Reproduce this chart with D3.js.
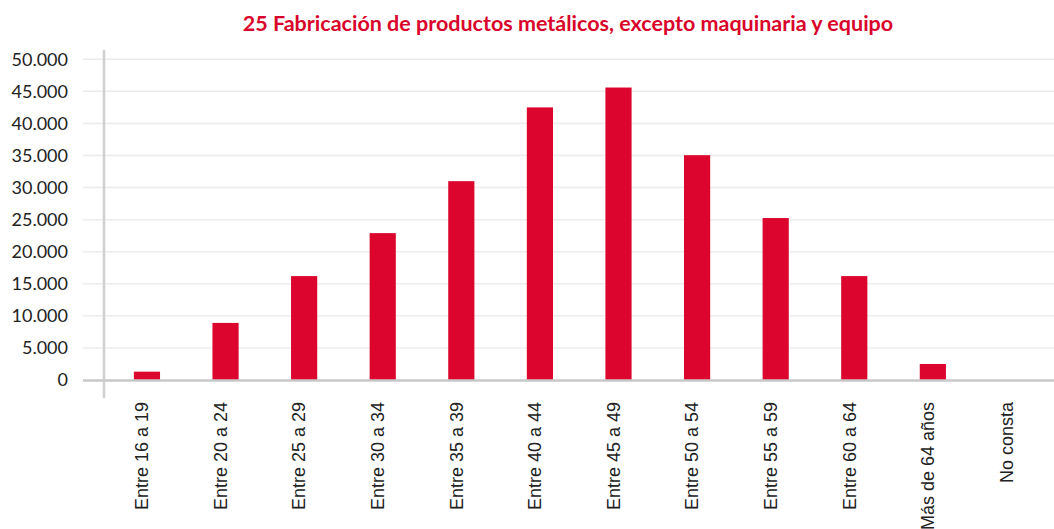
<!DOCTYPE html>
<html>
<head>
<meta charset="utf-8">
<script src="https://cdn.jsdelivr.net/npm/d3@7/dist/d3.min.js"></script>
<style>
  html, body { margin: 0; padding: 0; background: #fff; }
  svg { display: block; font-family: Lato, "Open Sans", sans-serif; }
</style>
</head>
<body>
<div id="chart"></div>
<script>
// Chart data
const title = "25 Fabricación de productos metálicos, excepto maquinaria y equipo";
const categories = [
    "Entre 16 a 19", "Entre 20 a 24", "Entre 25 a 29", "Entre 30 a 34",
    "Entre 35 a 39", "Entre 40 a 44", "Entre 45 a 49", "Entre 50 a 54",
    "Entre 55 a 59", "Entre 60 a 64", "Más de 64 años", "No consta"
];
const values = [1300, 8900, 16200, 22900, 31000, 42500, 45600, 35050, 25250, 16200, 2500, 0];
const yTicks = [0, 5000, 10000, 15000, 20000, 25000, 30000, 35000, 40000, 45000, 50000];

const width = 1054, height = 529;
const barColor = "#dc052d";

const svg = d3.select("#chart").append("svg")
    .attr("width", width)
    .attr("height", height);

// Scales
const x = d3.scaleBand()
    .domain(categories)
    .range([107.7, 1050.7])
    .paddingInner(0.667)
    .paddingOuter(0.333);

const y = d3.scaleLinear()
    .domain([0, 50000])
    .range([380, 59.3]);

const fmt = d3.formatLocale({ decimal: ",", thousands: ".", grouping: [3], currency: ["", "€"] }).format(",d");

// Gridlines
svg.append("g")
    .selectAll("line")
    .data(yTicks.filter(d => d > 0))
    .enter().append("line")
    .attr("x1", 83)
    .attr("x2", width)
    .attr("y1", d => y(d))
    .attr("y2", d => y(d))
    .attr("stroke", "#ececec")
    .attr("stroke-width", 1.5);

// Y axis labels
const yAxis = svg.append("g")
    .attr("transform", "translate(83,0)")
    .call(d3.axisLeft(y).tickValues(yTicks).tickFormat(fmt).tickSize(0).tickPadding(15));
yAxis.select(".domain").remove();
yAxis.selectAll("text")
    .attr("font-family", "Lato, sans-serif")
    .attr("font-size", 18)
    .attr("fill", "#222");

// Bars
svg.append("g")
    .selectAll("rect")
    .data(values)
    .enter().append("rect")
    .attr("x", (d, i) => x(categories[i]))
    .attr("width", x.bandwidth())
    .attr("y", d => y(d))
    .attr("height", d => y(0) - y(d))
    .attr("fill", barColor);

// Baseline and vertical axis line
svg.append("line")
    .attr("x1", 83).attr("x2", width)
    .attr("y1", y(0) + 0.5).attr("y2", y(0) + 0.5)
    .attr("stroke", "#c8c8c8")
    .attr("stroke-width", 2.5);

svg.append("line")
    .attr("x1", 104).attr("x2", 104)
    .attr("y1", 50).attr("y2", 398)
    .attr("stroke", "#d0d0d0")
    .attr("stroke-width", 2.5);

// X axis labels (rotated)
svg.append("g")
    .selectAll("text")
    .data(categories)
    .enter().append("text")
    .attr("transform", d => `translate(${x(d) + x.bandwidth() / 2 - 5},402) rotate(-90)`)
    .attr("dy", "0.35em")
    .attr("text-anchor", "end")
    .attr("font-family", "'Liberation Sans', Arial, sans-serif")
    .attr("font-size", 18)
    .attr("fill", "#222")
    .text(d => d);

// Title
svg.append("text")
    .attr("x", 568)
    .attr("y", 31)
    .attr("text-anchor", "middle")
    .attr("font-size", 21.5)
    .attr("font-weight", "bold")
    .attr("fill", "#d9042b")
    .text(title);
</script>
</body>
</html>
